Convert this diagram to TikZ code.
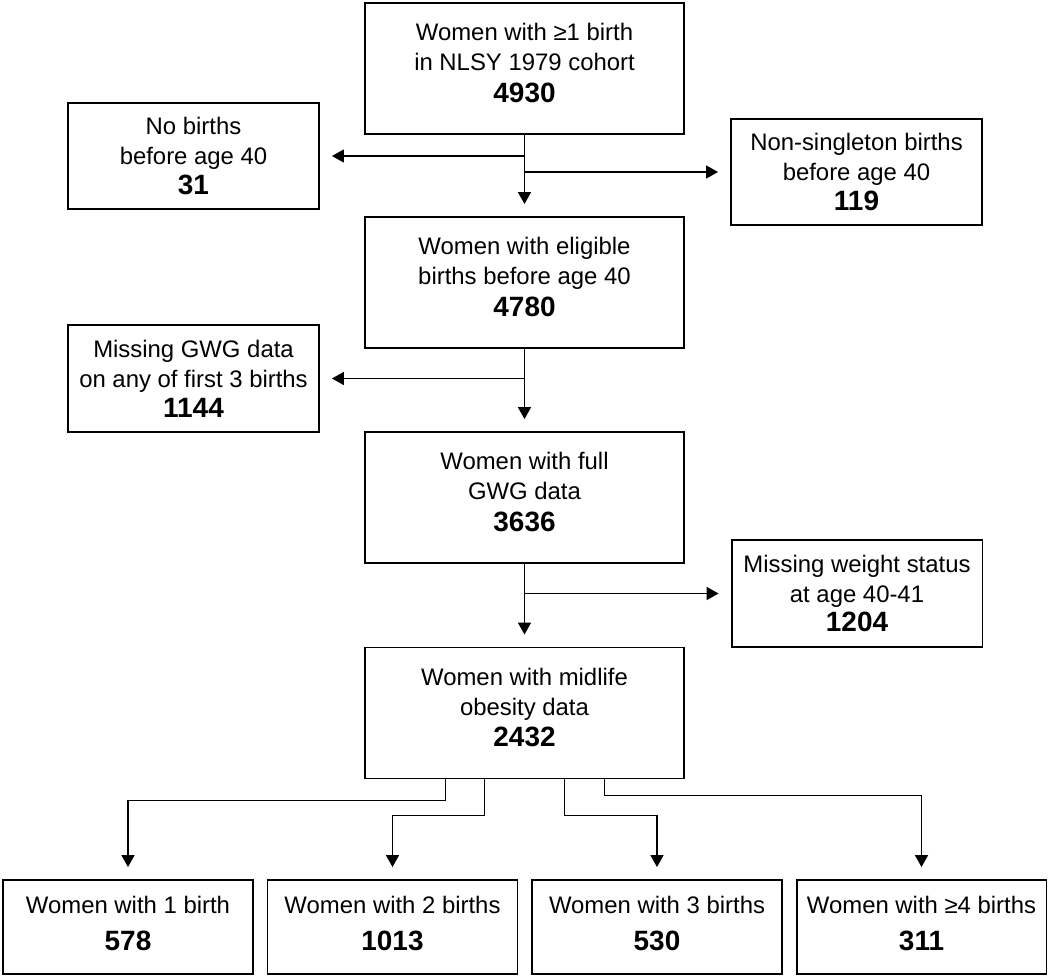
\documentclass[tikz,border=0pt]{standalone}
\usepackage{fontspec}
\setmainfont{Liberation Sans}
\usetikzlibrary{arrows.meta}
\newcommand{\cnt}[1]{{\fontsize{15.9}{18}\selectfont\bfseries #1}}

\begin{document}
\begin{tikzpicture}[x=0.02cm, y=-0.02cm,
    box/.style={draw, line width=1.1pt, align=center, inner sep=0pt,
        font=\fontsize{13.6}{17}\selectfont},
    mainbox/.style={box, minimum width=6.38cm, minimum height=2.62cm, text depth=0.22cm},
    sidebox/.style={box, minimum width=5.02cm, minimum height=2.13cm},
    endbox/.style={box, minimum width=5cm, minimum height=1.88cm, text depth=0.16cm},
    flow/.style={line width=0.95pt, -{Triangle[length=0.24cm, width=0.26cm]}, shorten >=0.24cm}]
    \useasboundingbox (0,0) rectangle (1050,976);

    % Main sequence
    \node[mainbox] (all) at (524.5,68.5) {Women with ≥1 birth\\in NLSY 1979 cohort\\[1pt]\cnt{4930}};
    \node[mainbox] (elig) at (524.5,282.5) {Women with eligible\\births before age 40\\[1pt]\cnt{4780}};
    \node[mainbox] (gwg) at (524.5,497.5) {Women with full\\GWG data\\[1pt]\cnt{3636}};
    \node[mainbox] (obese) at (524.5,713) {Women with midlife\\obesity data\\[1pt]\cnt{2432}};

    % Exclusions
    \node[sidebox] (nobirth) at (193.5,156) {No births\\before age 40\\\cnt{31}};
    \node[sidebox] (multi) at (856.5,172) {Non-singleton births\\before age 40\\\cnt{119}};
    \node[sidebox] (missgwg) at (193.5,378.5) {Missing GWG data\\on any of first 3 births\\\cnt{1144}};
    \node[sidebox] (missweight) at (857,593.5) {Missing weight status\\at age 40-41\\\cnt{1204}};

    % Parity groups
    \node[endbox] (one) at (128,927) {Women with 1 birth\\[0.14cm]\cnt{578}};
    \node[endbox] (two) at (392.5,927) {Women with 2 births\\[0.14cm]\cnt{1013}};
    \node[endbox] (three) at (657,927) {Women with 3 births\\[0.14cm]\cnt{530}};
    \node[endbox] (four) at (921.5,927) {Women with ≥4 births\\[0.14cm]\cnt{311}};

    % Arrows
    \draw[flow] (all.south) -- (elig.north);
    \draw[flow] (all.south |- nobirth.east) -- (nobirth.east);
    \draw[flow] (all.south |- multi.west) -- (multi.west);

    \draw[flow] (elig.south) -- (gwg.north);
    \draw[flow] (elig.south |- missgwg.east) -- (missgwg.east);

    \draw[flow] (gwg.south) -- (obese.north);
    \draw[flow] (gwg.south |- missweight.west) -- (missweight.west);

    \draw[flow] ([xshift=-1.58cm]obese.south) -- ++(0,21) -| (one.north);
    \draw[flow] ([xshift=-0.8cm]obese.south) -- ++(0,36) -| (two.north);
    \draw[flow] ([xshift=0.8cm]obese.south) -- ++(0,36) -| (three.north);
    \draw[flow] ([xshift=1.6cm]obese.south) -- ++(0,16) -| (four.north);
\end{tikzpicture}
\end{document}
